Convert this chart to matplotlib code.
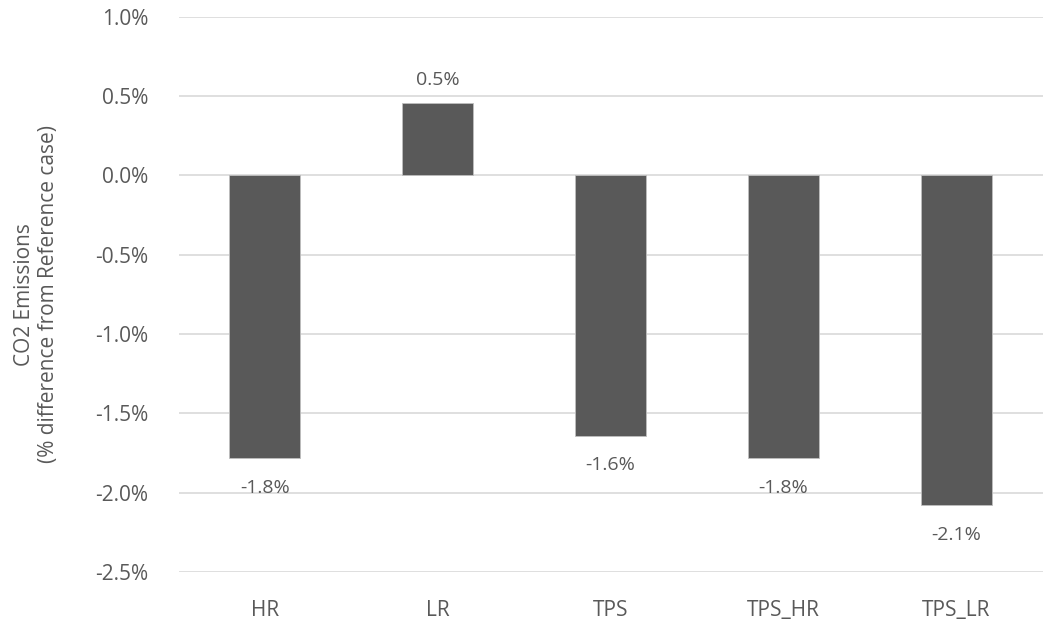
import matplotlib.pyplot as plt
from matplotlib.ticker import FuncFormatter

categories = ['HR', 'LR', 'TPS', 'TPS_HR', 'TPS_LR']
values = [-1.78, 0.46, -1.64, -1.78, -2.08]
labels = ['-1.8%', '0.5%', '-1.6%', '-1.8%', '-2.1%']

plt.rcParams['font.family'] = ['Open Sans', 'DejaVu Sans']
grey = '#595959'

fig = plt.figure(figsize=(10.5, 6.25), dpi=100)
ax = fig.add_axes([0.17, 0.085, 0.823, 0.888])

x = range(len(categories))
bars = ax.bar(x, values, width=0.41, color=grey, edgecolor='#bfbfbf', linewidth=0.6, zorder=3)

# 数据标签
for b, v, t in zip(bars, values, labels):
    if v >= 0:
        ax.annotate(t, (b.get_x() + b.get_width() / 2, v), xytext=(0, 10),
                    textcoords='offset points', ha='center', va='bottom',
                    fontsize=14, color=grey)
    else:
        ax.annotate(t, (b.get_x() + b.get_width() / 2, v), xytext=(0, -15),
                    textcoords='offset points', ha='center', va='top',
                    fontsize=14, color=grey)

ax.set_ylim(-2.5, 1.0)
ax.set_xlim(-0.5, len(categories) - 0.5)
ax.set_yticks([1.0, 0.5, 0.0, -0.5, -1.0, -1.5, -2.0, -2.5])
ax.yaxis.set_major_formatter(FuncFormatter(lambda v, p: f'{v:.1f}%'))
ax.set_xticks(list(x))
ax.set_xticklabels(categories)
ax.grid(axis='y', color='#d9d9d9', linewidth=1.2, zorder=0)
for s in ax.spines.values():
    s.set_visible(False)
ax.tick_params(length=0, labelsize=15, colors=grey, pad=22)
ax.tick_params(axis='x', pad=20)

ax.set_ylabel('CO2 Emissions\n(% difference from Reference case)', fontsize=15,
              color=grey, labelpad=26, linespacing=1.15)

fig.savefig('out.png', dpi=100)
